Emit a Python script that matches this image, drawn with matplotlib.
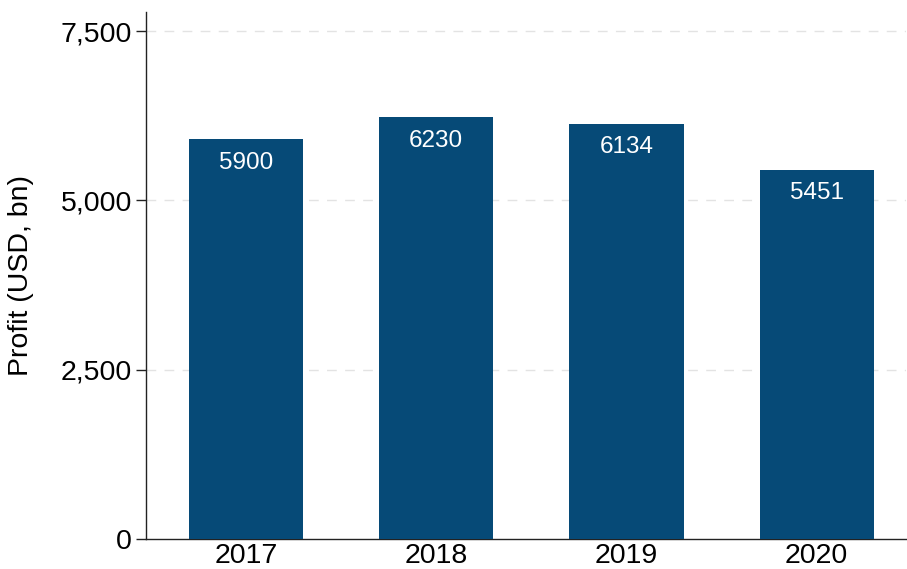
import matplotlib
matplotlib.use("Agg")
import matplotlib.pyplot as plt
from matplotlib.ticker import FuncFormatter

years = ["2017", "2018", "2019", "2020"]
profit = [5900, 6230, 6134, 5451]
yticks = [0, 2500, 5000, 7500]

plt.rcParams["font.family"] = ["Liberation Sans", "DejaVu Sans"]

fig = plt.figure(figsize=(9.07, 5.69), dpi=100)
ax = fig.add_axes([0.161, 0.0527, 0.838, 0.926])

bar_color = "#064a77"
x = list(range(len(years)))
bars = ax.bar(x, profit, width=0.6, color=bar_color, zorder=3)

for xi, v in zip(x, profit):
    ax.annotate(f"{v}", xy=(xi, v), xytext=(0, -9), textcoords="offset points",
                ha="center", va="top", color="white", fontsize=17.5, zorder=4)

ax.set_xlim(-0.526, 3.47)
ax.set_ylim(0, 7780)
ax.set_xticks(x)
ax.set_xticklabels(years)
ax.set_yticks(yticks)
ax.yaxis.set_major_formatter(FuncFormatter(lambda v, p: f"{int(v):,}"))

for t in yticks[1:]:
    ax.axhline(t, color="#e3e3e3", lw=1.0, ls=(0, (7, 6)), zorder=1)

for s in ["top", "right"]:
    ax.spines[s].set_visible(False)
for s in ["left", "bottom"]:
    ax.spines[s].set_color("#222222")
    ax.spines[s].set_linewidth(1.0)

ax.tick_params(axis="y", length=7, width=1.0, color="#222222", labelsize=20.5, pad=3)
ax.tick_params(axis="x", length=0, labelsize=20.5, pad=3)
ax.set_ylabel("Profit (USD, bn)", fontsize=20.5, labelpad=19)

fig.savefig("out.png", dpi=100, facecolor="white")
